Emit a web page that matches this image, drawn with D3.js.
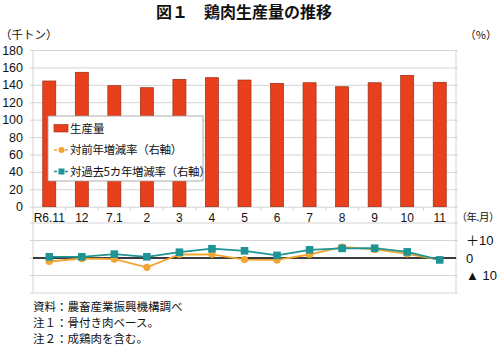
<!DOCTYPE html>
<html>
<head>
<meta charset="utf-8">
<script src="https://cdn.jsdelivr.net/npm/d3@7/dist/d3.min.js"></script>
<style>
  html, body { margin: 0; padding: 0; background: #fff; }
  svg { display: block; font-family: "Liberation Sans", "Noto Sans CJK JP", sans-serif; }
</style>
</head>
<body>
<svg id="chart" width="500" height="350"></svg>
<script>
// Months (Reiwa year.month)
const months = ["R6.11", "12", "7.1", "2", "3", "4", "5", "6", "7", "8", "9", "10", "11"];
// Broiler production, thousand tonnes
const production = [144.4, 154.4, 139.0, 136.7, 146.3, 148.2, 145.5, 141.7, 142.4, 137.8, 142.4, 150.9, 142.9];
// Change vs same month previous year, %
const yoyChange = [-2.0, -0.3, -0.6, -5.3, 2.0, 2.1, -0.9, -1.1, 2.0, 6.3, 4.9, 2.4, -1.0];
// Change vs 5-year average, %
const fiveYearChange = [0.7, 0.7, 2.2, 0.7, 3.3, 5.3, 4.1, 1.5, 4.7, 5.5, 5.6, 3.5, -1.1];
// Axis ticks
const leftTicks = [0, 20, 40, 60, 80, 100, 120, 140, 160, 180];
const rightTicks = [-20, -10, 0, 10, 20];
const rightTickLabels = { "10": "＋10", "0": "0", "-10": "▲ 10" };
const notes = ["資料：農畜産業振興機構調べ", "注１：骨付き肉ベース。", "注２：成鶏肉を含む。"];

const svg = d3.select("#chart");
const L = 33, R = 456;
const gridColor = "#d4d4d4";
const barColor = "#e8401c";
const yoyColor = "#f2a531";
const fiveColor = "#1e9494";

const x = d3.scaleBand().domain(months).range([L, R]).paddingInner(0.6).paddingOuter(0.3);
const xBand = d3.scaleBand().domain(months).range([L, R]);
const y = d3.scaleLinear().domain([0, 180]).range([206.7, 50]);
const y2 = d3.scaleLinear().domain([-20, 20]).range([293, 223]);

// Title
svg.append("text").attr("x", 244).attr("y", 18).attr("text-anchor", "middle")
  .attr("font-size", 16).attr("font-weight", "bold").attr("fill", "#111")
  .attr("font-family", "'Noto Sans CJK JP', sans-serif")
  .text("図１　鶏肉生産量の推移");

// Unit labels
svg.append("text").attr("x", 0).attr("y", 39).attr("font-size", 11.5).attr("fill", "#111")
  .attr("font-family", "'Noto Sans CJK JP', sans-serif").text("（千トン）");
svg.append("text").attr("x", 497).attr("y", 39).attr("text-anchor", "end").attr("font-size", 11).attr("fill", "#111")
  .attr("font-family", "'Noto Sans CJK JP', sans-serif").text("（%）");
svg.append("text").attr("x", 499).attr("y", 221).attr("text-anchor", "end").attr("font-size", 10.5).attr("fill", "#111")
  .attr("letter-spacing", -0.5)
  .attr("font-family", "'Noto Sans CJK JP', sans-serif").text("（年.月）");

// Upper panel gridlines and left axis
const leftAxis = d3.axisLeft(y).tickValues(leftTicks).tickSize(-(R - L + 2)).tickSizeOuter(0).tickPadding(7);
const gl = svg.append("g").attr("transform", `translate(${L - 3},0)`).call(leftAxis);
gl.select(".domain").remove();
gl.selectAll(".tick line").attr("stroke", gridColor).attr("x1", 0).attr("x2", R - L + 5);
gl.selectAll(".tick text").attr("font-size", 12.5).attr("fill", "#111").attr("font-family", "'Liberation Sans', sans-serif");

// Lower panel gridlines
svg.append("g").selectAll("line").data(rightTicks).join("line")
  .attr("x1", L - 3).attr("x2", R + 2)
  .attr("y1", d => y2(d)).attr("y2", d => y2(d))
  .attr("stroke", gridColor);

// Right axis labels
svg.append("g").selectAll("text").data(rightTicks.filter(d => rightTickLabels[d] !== undefined)).join("text")
  .attr("x", 466).attr("y", d => y2(d) + 4.5)
  .attr("font-size", 13).attr("fill", "#111")
  .attr("font-family", "'Liberation Sans', 'Noto Sans CJK JP', sans-serif")
  .text(d => rightTickLabels[d]);

// Frame verticals
svg.append("line").attr("x1", L).attr("x2", L).attr("y1", y(180)).attr("y2", y2(-20)).attr("stroke", gridColor);
svg.append("line").attr("x1", R).attr("x2", R).attr("y1", y(180)).attr("y2", y2(-20)).attr("stroke", gridColor);

// Category ticks on the bar axis
svg.append("g").selectAll("line").data(months.slice(1)).join("line")
  .attr("x1", d => xBand(d)).attr("x2", d => xBand(d))
  .attr("y1", y(0)).attr("y2", y(0) + 4).attr("stroke", gridColor);

// Month labels
svg.append("g").selectAll("text").data(months).join("text")
  .attr("x", d => xBand(d) + xBand.bandwidth() / 2).attr("y", 222)
  .attr("text-anchor", "middle").attr("font-size", 12).attr("fill", "#111")
  .attr("font-family", "'Liberation Sans', sans-serif")
  .text(d => d);

// Production bars
svg.append("g").selectAll("rect").data(production).join("rect")
  .attr("x", (d, i) => x(months[i])).attr("width", x.bandwidth())
  .attr("y", d => y(d)).attr("height", d => y(0) - y(d))
  .attr("fill", barColor).attr("stroke", "#9c2a10").attr("stroke-width", 0.7);

// Zero line of the lower panel
svg.append("line").attr("x1", L).attr("x2", R).attr("y1", y2(0)).attr("y2", y2(0))
  .attr("stroke", "#000").attr("stroke-width", 1.5);

const cx = i => xBand(months[i]) + xBand.bandwidth() / 2;
const line = d3.line().x((d, i) => cx(i));

// Year-on-year change
svg.append("path").datum(yoyChange)
  .attr("d", line.y(d => y2(d)))
  .attr("fill", "none").attr("stroke", yoyColor).attr("stroke-width", 1.8);
svg.append("g").selectAll("circle").data(yoyChange).join("circle")
  .attr("cx", (d, i) => cx(i)).attr("cy", d => y2(d)).attr("r", 3.6)
  .attr("fill", yoyColor);

// Change vs five-year average
svg.append("path").datum(fiveYearChange)
  .attr("d", line.y(d => y2(d)))
  .attr("fill", "none").attr("stroke", fiveColor).attr("stroke-width", 1.8);
svg.append("g").selectAll("rect").data(fiveYearChange).join("rect")
  .attr("x", (d, i) => cx(i) - 3.8).attr("y", d => y2(d) - 3.8)
  .attr("width", 7.6).attr("height", 7.6)
  .attr("fill", fiveColor);

// Legend
const lg = svg.append("g").attr("font-family", "'Noto Sans CJK JP', sans-serif");
lg.append("rect").attr("x", 48).attr("y", 116).attr("width", 155).attr("height", 65)
  .attr("fill", "#fff").attr("stroke", "#9a9a9a").attr("stroke-width", 0.8);
lg.append("rect").attr("x", 54).attr("y", 124.5).attr("width", 14).attr("height", 7.5)
  .attr("fill", barColor).attr("stroke", "#9c2a10").attr("stroke-width", 0.6);
lg.append("text").attr("x", 70).attr("y", 132.5).attr("font-size", 11.5).attr("fill", "#111").text("生産量");

const legendLines = [
  { label: "対前年増減率（右軸）", color: yoyColor, shape: "circle", yy: 150 },
  { label: "対過去5カ年増減率（右軸）", color: fiveColor, shape: "square", yy: 171.5 }
];
legendLines.forEach(e => {
  lg.append("line").attr("x1", 54).attr("x2", 69).attr("y1", e.yy).attr("y2", e.yy)
    .attr("stroke", e.color).attr("stroke-width", 1.6).attr("stroke-dasharray", "3,2.5");
  if (e.shape === "circle") {
    lg.append("circle").attr("cx", 61.5).attr("cy", e.yy).attr("r", 3).attr("fill", e.color);
  } else {
    lg.append("rect").attr("x", 58.5).attr("y", e.yy - 3).attr("width", 6).attr("height", 6).attr("fill", e.color);
  }
  lg.append("text").attr("x", 70).attr("y", e.yy + 4).attr("font-size", 11.5).attr("fill", "#111")
    .attr("letter-spacing", -0.3).text(e.label);
});

// Source and notes
svg.append("g").selectAll("text").data(notes).join("text")
  .attr("x", 33).attr("y", (d, i) => 311 + i * 15.8)
  .attr("font-size", 11.5).attr("fill", "#111")
  .attr("font-family", "'Noto Sans CJK JP', sans-serif")
  .text(d => d);
</script>
</body>
</html>
